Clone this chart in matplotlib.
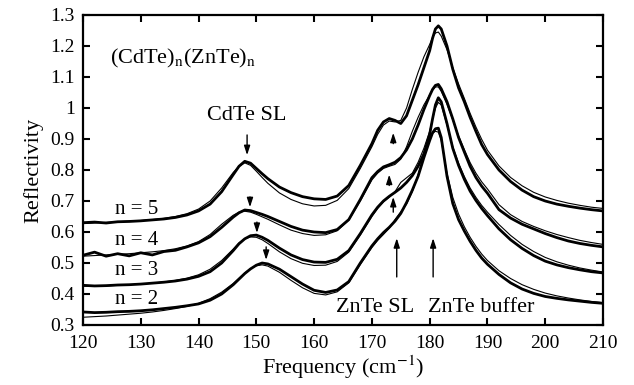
import matplotlib.pyplot as plt
from matplotlib.ticker import MultipleLocator, FuncFormatter

plt.rcParams['font.family'] = ['Liberation Serif', 'DejaVu Serif']
plt.rcParams['mathtext.fontset'] = 'stix'

# frequency grid (cm-1), denser around the peaks
freq = [120, 122, 124, 126, 128, 130, 132, 134, 136, 138, 140, 142, 144, 146,
        147, 148, 149, 150, 151, 152,
        154, 156, 158, 160, 162, 164, 166, 168, 170,
        171, 172, 173, 174, 175, 176, 177, 178, 179, 180,
        180.5, 181, 181.5, 182,
        183, 184, 185, 186, 187, 188, 189, 190,
        192, 194, 196, 198, 200, 202, 204, 206, 208, 210]

exp_n5 = [0.630, 0.632, 0.629, 0.633, 0.634, 0.636, 0.639, 0.642, 0.647, 0.655, 0.668, 0.690, 0.730, 0.785,
          0.812, 0.828, 0.822, 0.805, 0.788, 0.772,
          0.745, 0.727, 0.714, 0.707, 0.705, 0.716, 0.750, 0.815, 0.885,
          0.928, 0.955, 0.966, 0.960, 0.950, 0.975, 1.025, 1.075, 1.130, 1.185,
          1.225, 1.255, 1.265, 1.255,
          1.200, 1.125, 1.065, 1.020, 0.970, 0.925, 0.882, 0.850,
          0.800, 0.763, 0.735, 0.714, 0.700, 0.690, 0.683, 0.677, 0.672, 0.668]
fit_n5 = [0.627, 0.629, 0.631, 0.633, 0.635, 0.637, 0.640, 0.644, 0.650, 0.659, 0.674, 0.700, 0.742, 0.792,
          0.812, 0.823, 0.815, 0.796, 0.776, 0.757,
          0.726, 0.705, 0.691, 0.684, 0.686, 0.702, 0.740, 0.805, 0.875,
          0.915, 0.945, 0.958, 0.955, 0.960, 1.000, 1.060, 1.115, 1.165, 1.205,
          1.228, 1.242, 1.245, 1.232,
          1.188, 1.130, 1.078, 1.031, 0.983, 0.939, 0.899, 0.864,
          0.813, 0.776, 0.749, 0.728, 0.713, 0.702, 0.693, 0.686, 0.680, 0.676]

exp_n4 = [0.525, 0.535, 0.522, 0.530, 0.523, 0.533, 0.526, 0.537, 0.541, 0.552, 0.565, 0.585, 0.615, 0.648,
          0.662, 0.671, 0.669, 0.663, 0.657, 0.650,
          0.634, 0.618, 0.606, 0.600, 0.598, 0.608, 0.640, 0.705, 0.775,
          0.795, 0.810, 0.817, 0.825, 0.840, 0.865, 0.900, 0.945, 0.995, 1.040,
          1.060, 1.073, 1.076, 1.062,
          1.020, 0.965, 0.905, 0.858, 0.812, 0.776, 0.748, 0.725,
          0.672, 0.645, 0.625, 0.610, 0.595, 0.582, 0.571, 0.563, 0.557, 0.552]
fit_n4 = [0.522, 0.524, 0.526, 0.528, 0.530, 0.533, 0.536, 0.540, 0.546, 0.555, 0.569, 0.592, 0.625, 0.654,
          0.664, 0.667, 0.664, 0.657, 0.649, 0.641,
          0.623, 0.606, 0.595, 0.589, 0.591, 0.604, 0.638, 0.700, 0.768,
          0.790, 0.805, 0.812, 0.818, 0.835, 0.875, 0.925, 0.970, 1.010, 1.042,
          1.058, 1.068, 1.068, 1.054,
          1.012, 0.962, 0.910, 0.866, 0.824, 0.790, 0.762, 0.739,
          0.688, 0.656, 0.634, 0.618, 0.604, 0.592, 0.582, 0.573, 0.566, 0.560]

exp_n3 = [0.428, 0.426, 0.427, 0.429, 0.430, 0.432, 0.435, 0.438, 0.442, 0.448, 0.457, 0.472, 0.500, 0.540,
          0.562, 0.578, 0.588, 0.590, 0.583, 0.573,
          0.548, 0.526, 0.511, 0.503, 0.502, 0.512, 0.540, 0.595, 0.655,
          0.680, 0.700, 0.715, 0.728, 0.742, 0.760, 0.782, 0.812, 0.852, 0.915,
          0.965, 1.010, 1.033, 1.020,
          0.950, 0.870, 0.815, 0.770, 0.732, 0.702, 0.676, 0.653,
          0.610, 0.575, 0.547, 0.524, 0.506, 0.494, 0.485, 0.478, 0.472, 0.468]
fit_n3 = [0.425, 0.425, 0.426, 0.428, 0.430, 0.432, 0.435, 0.439, 0.444, 0.451, 0.462, 0.480, 0.508, 0.545,
          0.565, 0.578, 0.584, 0.583, 0.575, 0.563,
          0.536, 0.514, 0.499, 0.492, 0.493, 0.505, 0.535, 0.590, 0.650,
          0.676, 0.697, 0.712, 0.730, 0.760, 0.775, 0.790, 0.825, 0.870, 0.925,
          0.965, 1.000, 1.018, 1.010,
          0.945, 0.875, 0.822, 0.779, 0.742, 0.712, 0.686, 0.664,
          0.624, 0.589, 0.560, 0.537, 0.518, 0.504, 0.493, 0.484, 0.477, 0.471]

exp_n2 = [0.342, 0.340, 0.341, 0.343, 0.344, 0.346, 0.349, 0.353, 0.357, 0.362, 0.368, 0.380, 0.400, 0.430,
          0.448, 0.466, 0.481, 0.493, 0.500, 0.497,
          0.480, 0.456, 0.432, 0.412, 0.405, 0.413, 0.440, 0.500, 0.555,
          0.578, 0.598, 0.615, 0.635, 0.660, 0.695, 0.735, 0.780, 0.840, 0.895,
          0.920, 0.933, 0.935, 0.905,
          0.780, 0.692, 0.640, 0.603, 0.570, 0.541, 0.516, 0.496,
          0.463, 0.436, 0.416, 0.402, 0.392, 0.386, 0.381, 0.377, 0.373, 0.370]
fit_n2 = [0.325, 0.327, 0.329, 0.332, 0.335, 0.338, 0.342, 0.347, 0.353, 0.360, 0.370, 0.385, 0.406, 0.434,
          0.451, 0.468, 0.482, 0.491, 0.494, 0.490,
          0.470, 0.444, 0.420, 0.402, 0.397, 0.407, 0.436, 0.495, 0.550,
          0.573, 0.592, 0.612, 0.640, 0.665, 0.690, 0.730, 0.785, 0.848, 0.900,
          0.918, 0.925, 0.922, 0.895,
          0.790, 0.712, 0.658, 0.617, 0.583, 0.554, 0.529, 0.508,
          0.475, 0.450, 0.430, 0.415, 0.403, 0.394, 0.387, 0.381, 0.376, 0.372]

labels = ['n = 5', 'n = 4', 'n = 3', 'n = 2']
label_y = [0.674, 0.574, 0.477, 0.381]

# CdTe SL arrows (pointing down): position, tail, tip
cdte_f = [148.4, 148.9, 150.1, 151.7]
cdte_tail = [0.913, 0.713, 0.632, 0.552]
cdte_tip = [0.848, 0.680, 0.597, 0.510]
# ZnTe SL small arrows (pointing up)
znsl_f = [173.7, 173.0, 173.7]
znsl_tail = [0.885, 0.750, 0.664]
znsl_tip = [0.920, 0.785, 0.713]
# long arrows above the bottom labels
long_f = [174.3, 180.6]

fig = plt.figure(figsize=(6.34, 3.85), dpi=100)
ax = fig.add_axes([83 / 634, 1 - 325 / 385, 520 / 634, 310 / 385])

for e, f in [(exp_n5, fit_n5), (exp_n4, fit_n4), (exp_n3, fit_n3), (exp_n2, fit_n2)]:
    ax.plot(freq, e, color='black', lw=2.0, solid_joinstyle='round')
    ax.plot(freq, f, color='black', lw=0.8)

ax.set_xlim(120, 210)
ax.set_ylim(0.3, 1.3)
ax.xaxis.set_major_locator(MultipleLocator(10))
ax.yaxis.set_major_locator(MultipleLocator(0.1))
ax.yaxis.set_major_formatter(FuncFormatter(lambda v, p: '%g' % round(v, 2)))
ax.tick_params(direction='in', top=True, right=True, length=5, width=1.5,
               labelsize=14)
ax.tick_params(axis='x', pad=7)
ax.tick_params(axis='y', pad=6)
for s in ax.spines.values():
    s.set_linewidth(1.6)

ax.set_xlabel('Frequency (cm$^{\\mathrm{-1}}$)', fontsize=16, labelpad=1)
ax.set_ylabel('Reflectivity', fontsize=16, labelpad=5)

ax.text(124.7, 1.161, '(CdTe)$_{\\mathrm{n}}$(ZnTe)$_{\\mathrm{n}}$', fontsize=16,
        ha='left', va='center')
ax.text(148.4, 0.977, 'CdTe SL', fontsize=16, ha='center', va='center')
for lab, y in zip(labels, label_y):
    ax.text(129.2, y, lab, fontsize=15, ha='center', va='center')
ax.text(170.6, 0.358, 'ZnTe SL', fontsize=16, ha='center', va='center')
ax.text(188.9, 0.358, 'ZnTe buffer', fontsize=16, ha='center', va='center')

head = dict(arrowstyle='-|>,head_length=0.55,head_width=0.18', color='black',
            lw=1.0, shrinkA=0, shrinkB=0)
for f, t0, t1 in zip(cdte_f, cdte_tail, cdte_tip):
    ax.annotate('', xy=(f, t1), xytext=(f, t0), arrowprops=head)
for f, t0, t1 in zip(znsl_f, znsl_tail, znsl_tip):
    ax.annotate('', xy=(f, t1), xytext=(f, t0), arrowprops=head)
for f in long_f:
    ax.annotate('', xy=(f, 0.58), xytext=(f, 0.455), arrowprops=head)

fig.savefig('out.png', dpi=100)
